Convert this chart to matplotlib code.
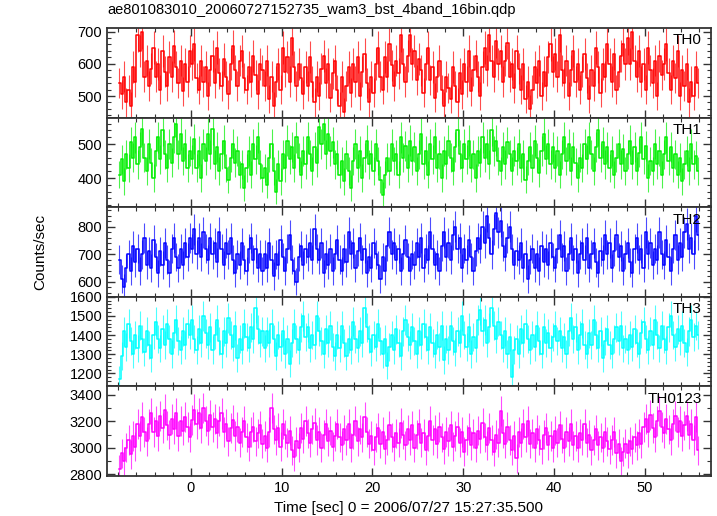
import numpy as np
import matplotlib

matplotlib.use("Agg")
import matplotlib.pyplot as plt
from matplotlib.ticker import MultipleLocator

# 0.25 s bins, 64 s burst starting at -8 s
T_START = -8.0
BIN = 0.25

TH0 = [
    540, 505, 560, 480, 520, 470, 590, 545, 690, 640, 700, 560, 610, 530, 585, 650,
    560, 600, 520, 640, 575, 530, 620, 560, 655, 590, 540, 610, 515, 600, 545, 640,
    600, 660, 555, 520, 610, 545, 590, 500, 580, 625, 540, 650, 570, 530, 615, 560,
    505, 600, 655, 580, 530, 610, 640, 555, 520, 590, 545, 625, 565, 505, 600, 580,
    530, 610, 490, 560, 470, 545, 600, 520, 650, 575, 620, 545, 680, 590, 530, 600,
    555, 505, 590, 530, 620, 545, 480, 560, 500, 585, 625, 540, 600, 495, 570, 610,
    520, 470, 560, 450, 530, 590, 510, 600, 545, 620, 500, 575, 630, 540, 480, 560,
    510, 600, 650, 560, 520, 620, 560, 660, 595, 530, 610, 570, 690, 600, 545, 625,
    690, 600, 640, 550, 615, 580, 510, 600, 650, 550, 590, 495, 560, 610, 520, 470,
    560, 525, 490, 590, 530, 480, 570, 505, 600, 545, 640, 515, 580, 625, 560, 500,
    590, 650, 580, 690, 610, 560, 670, 600, 640, 545, 610, 665, 560, 600, 525, 640,
    585, 520, 600, 490, 545, 460, 520, 590, 540, 610, 500, 575, 530, 620, 660, 575,
    630, 560, 690, 580, 540, 610, 500, 580, 640, 545, 600, 520, 575, 630, 555, 490,
    580, 530, 650, 590, 510, 600, 560, 660, 600, 545, 630, 520, 575, 625, 660, 600,
    680, 600, 700, 610, 560, 640, 545, 600, 520, 650, 580, 540, 610, 500, 625, 565,
    600, 660, 570, 520, 610, 555, 640, 500, 580, 530, 600, 480, 545, 500, 590, 540,
]

TH1 = [
    410, 455, 390, 470, 430, 505, 460, 520, 440, 490, 545, 460, 420, 500, 445, 400,
    480, 520, 455, 540, 470, 430, 500, 445, 520, 560, 470, 530, 450, 500, 430, 480,
    455, 515, 430, 480, 400, 500, 450, 530, 470, 545, 440, 490, 420, 470, 510, 430,
    395, 460, 500, 445, 480, 410, 440, 370, 430, 480, 410, 500, 455, 520, 440, 400,
    430, 380, 460, 500, 420, 360, 440, 390, 470, 430, 510, 455, 490, 430, 520, 460,
    410, 480, 440, 520, 470, 420, 490, 445, 550, 500, 560, 470, 530, 480, 505, 440,
    470, 410, 450, 390, 470, 420, 370, 450, 500, 430, 480, 400, 460, 510, 440, 470,
    420, 500, 450, 395, 350, 410, 460, 420, 500, 450, 470, 410, 520, 460, 495, 430,
    510, 450, 490, 420, 470, 530, 440, 480, 410, 500, 455, 520, 430, 470, 400, 480,
    440, 510, 460, 420, 490, 540, 470, 430, 500, 455, 510, 430, 470, 400, 480, 445,
    520, 460, 500, 440, 540, 480, 510, 450, 420, 490, 440, 505, 470, 420, 480, 450,
    500, 430, 470, 395, 450, 490, 430, 510, 460, 415, 480, 530, 455, 500, 440, 490,
    430, 480, 410, 470, 520, 450, 500, 420, 490, 445, 400, 460, 430, 500, 455, 520,
    470, 420, 490, 540, 460, 505, 440, 490, 430, 480, 410, 460, 500, 440, 485, 420,
    470, 510, 440, 490, 420, 475, 520, 455, 495, 400, 450, 420, 500, 440, 480, 410,
    470, 520, 450, 490, 430, 470, 410, 460, 390, 440, 480, 420, 500, 440, 465, 420,
]

TH2 = [
    680, 610, 580, 650, 700, 640, 730, 670, 720, 640, 700, 760, 660, 710, 650, 750,
    690, 630, 710, 660, 740, 680, 630, 720, 760, 690, 650, 720, 660, 740, 690, 760,
    720, 790, 700, 760, 690, 780, 720, 680, 760, 700, 740, 670, 780, 720, 660, 740,
    700, 760, 680, 630, 700, 660, 740, 680, 640, 720, 760, 680, 720, 650, 700, 640,
    700, 650, 740, 680, 620, 700, 660, 750, 690, 640, 720, 770, 680, 640, 600, 690,
    730, 660, 720, 690, 740, 680, 790, 720, 680, 740, 630, 700, 660, 720, 640, 700,
    750, 680, 640, 720, 670, 780, 700, 740, 650, 710, 760, 680, 720, 630, 690, 650,
    740, 700, 660, 610, 690, 640, 730, 780, 700, 740, 680, 720, 640, 700, 750, 690,
    640, 700, 660, 740, 690, 760, 650, 720, 680, 780, 720, 660, 700, 640, 730, 780,
    690, 740, 680, 770, 800, 720, 760, 650, 720, 680, 750, 690, 640, 710, 760, 720,
    800, 740, 840, 760, 700, 790, 850, 780, 820, 730, 690, 760, 800, 720, 660, 710,
    680, 740, 650, 700, 610, 680, 720, 650, 700, 640, 730, 670, 720, 660, 740, 690,
    650, 720, 770, 690, 730, 640, 700, 760, 680, 720, 630, 700, 740, 680, 760, 650,
    700, 740, 670, 630, 710, 680, 770, 700, 740, 650, 710, 770, 690, 730, 640, 700,
    740, 670, 630, 720, 760, 680, 720, 650, 780, 700, 740, 660, 720, 680, 780, 700,
    660, 750, 690, 640, 720, 770, 680, 740, 690, 780, 810, 720, 760, 700, 840, 770,
]

TH3 = [
    1170, 1290, 1420, 1340, 1460, 1370, 1300, 1400, 1330, 1450, 1380, 1310, 1420, 1350, 1280, 1400,
    1470, 1380, 1330, 1430, 1350, 1460, 1380, 1300, 1410, 1480, 1370, 1320, 1420, 1350, 1460, 1400,
    1480, 1380, 1320, 1430, 1360, 1500, 1410, 1350, 1440, 1320, 1400, 1480, 1370, 1300, 1420, 1360,
    1490, 1400, 1340, 1450, 1280, 1380, 1320, 1460, 1390, 1330, 1440, 1380, 1540, 1430, 1360, 1420,
    1330, 1420, 1360, 1460, 1380, 1290, 1400, 1340, 1420, 1300, 1380, 1250, 1360, 1460, 1380, 1320,
    1440, 1500, 1390, 1440, 1330, 1400, 1350, 1500, 1420, 1370, 1300, 1430, 1360, 1450, 1340, 1290,
    1400, 1330, 1450, 1360, 1290, 1380, 1320, 1470, 1380, 1330, 1420, 1360, 1540, 1440, 1380, 1310,
    1400, 1340, 1460, 1370, 1300, 1380, 1240, 1340, 1400, 1320, 1430, 1360, 1290, 1420, 1480, 1390,
    1350, 1440, 1370, 1300, 1420, 1350, 1460, 1390, 1320, 1440, 1360, 1300, 1400, 1340, 1450, 1270,
    1380, 1320, 1450, 1370, 1310, 1420, 1360, 1500, 1400, 1340, 1440, 1300, 1390, 1330, 1480, 1530,
    1420, 1480, 1360, 1440, 1540, 1450, 1380, 1470, 1400, 1330, 1420, 1300, 1390, 1180, 1320, 1380,
    1300, 1430, 1360, 1460, 1380, 1320, 1400, 1340, 1450, 1370, 1300, 1440, 1360, 1410, 1330, 1390,
    1450, 1370, 1420, 1330, 1390, 1300, 1420, 1490, 1380, 1440, 1320, 1400, 1460, 1350, 1300, 1410,
    1350, 1480, 1400, 1330, 1420, 1280, 1370, 1430, 1350, 1300, 1380, 1440, 1370, 1450, 1330, 1380,
    1320, 1400, 1340, 1430, 1360, 1300, 1410, 1470, 1380, 1320, 1420, 1350, 1480, 1400, 1330, 1450,
    1380, 1320, 1440, 1500, 1400, 1340, 1430, 1370, 1450, 1360, 1310, 1420, 1480, 1390, 1450, 1400,
]

TH0123 = [
    2840, 2960, 2900, 3000, 3060, 2950, 3090, 3010, 3180, 3090, 3230, 3120, 3050, 3180, 3260, 3120,
    3200, 3090, 3240, 3150, 3290, 3170, 3100, 3220, 3140, 3260, 3090, 3200, 3130, 3230, 3160, 3080,
    3210, 3290, 3180, 3260, 3150, 3300, 3200, 3130, 3250, 3160, 3220, 3110, 3200, 3260, 3120, 3180,
    3050, 3150, 3210, 3090, 3160, 3040, 3120, 3200, 3080, 3010, 3120, 3160, 3050, 3110, 3170, 3030,
    3090, 3000, 3120, 3300, 3140, 3060, 3150, 3010, 3180, 3100, 3040, 3130, 2980, 2930, 3050, 3000,
    3150, 3070, 3200, 3110, 3040, 3140, 3190, 3060, 3120, 3000, 3100, 3180, 3050, 3130, 3010, 3090,
    3180, 3080, 3020, 3140, 3060, 3180, 3000, 3100, 3200, 3050, 3140, 3080, 3230, 3120, 3030, 3090,
    2980, 3080, 3150, 3030, 3120, 2990, 3060, 3170, 3080, 3010, 3110, 3040, 3190, 3100, 3020, 3140,
    3060, 3170, 3000, 3100, 3180, 3040, 3110, 2980, 3090, 3200, 3060, 3140, 3030, 3160, 3080, 2990,
    3120, 3050, 3170, 3010, 3090, 3160, 3040, 3120, 2970, 3060, 3150, 3020, 3110, 3000, 3130, 3070,
    3190, 3080, 3020, 3150, 3060, 2970, 3100, 3040, 3280, 3110, 3030, 3160, 3060, 2980, 3090, 2920,
    3120, 3040, 3180, 3080, 3200, 3030, 3110, 3000, 3140, 3060, 2990, 3100, 3150, 3020, 3090, 3000,
    3130, 3040, 3170, 3070, 3000, 3120, 3050, 3180, 3020, 3090, 3000, 3110, 3060, 3180, 3040, 3100,
    2980, 3060, 3140, 3020, 3080, 3000, 3120, 3050, 2990, 3060, 3120, 2960, 3030, 2900, 2970, 3030,
    2960, 3050, 2990, 3080, 3020, 3110, 3030, 3160, 3220, 3120, 3250, 3150, 3080, 3200, 3280, 3160,
    3110, 3220, 3140, 3060, 3180, 3240, 3120, 3200, 3090, 3170, 3240, 3100, 3180, 3060, 3230, 2980,
]

PANELS = [
    ("TH0", TH0, "#ff0000", (433, 711), 100, 20),
    ("TH1", TH1, "#00ee00", (314, 578), 100, 20),
    ("TH2", TH2, "#0000ff", (545, 871), 100, 20),
    ("TH3", TH3, "#00ffff", (1132, 1600), 100, 20),
    ("TH0123", TH0123, "#ff00ff", (2787, 3465), 200, 100),
]

TITLE = "ae801083010_20060727152735_wam3_bst_4band_16bin.qdp"
XLABEL = "Time [sec] 0 = 2006/07/27 15:27:35.500"


def main():
    plt.rcParams.update({
        "font.family": ["Liberation Sans", "DejaVu Sans"],
        "font.size": 10,
    })
    fig = plt.figure(figsize=(7.17, 5.16), dpi=100)

    left, right = 107 / 717, 711 / 717
    top, bottom = 1 - 28 / 516, 1 - 476 / 516
    h = (top - bottom) / len(PANELS)

    for i, (name, vals, color, ylim, major, minor) in enumerate(PANELS):
        ax = fig.add_axes([left, top - (i + 1) * h, right - left, h])
        y = np.array(vals, dtype=float)
        t = T_START + BIN * (np.arange(len(y)) + 0.5)
        err = np.sqrt(y / BIN)
        ax.errorbar(t, y, yerr=err, fmt="none", ecolor=color, elinewidth=0.8, alpha=0.7)
        ax.step(t, y, where="mid", color=color, lw=1.1)
        ax.set_xlim(-9.25, 57.3)
        ax.set_ylim(*ylim)
        ax.xaxis.set_major_locator(MultipleLocator(10))
        ax.xaxis.set_minor_locator(MultipleLocator(2))
        ax.yaxis.set_major_locator(MultipleLocator(major))
        ax.yaxis.set_minor_locator(MultipleLocator(minor))
        ax.tick_params(which="both", direction="in", top=True, right=True, colors="#333333",
                       labelcolor="black", labelsize=10.5)
        ax.tick_params(which="major", length=6, width=1)
        ax.tick_params(which="minor", length=3, width=0.8)
        for s in ax.spines.values():
            s.set_linewidth(1.3)
            s.set_color("#333333")
        if i < len(PANELS) - 1:
            ax.tick_params(labelbottom=False)
        ax.text(0.985, 0.94, name, transform=ax.transAxes, ha="right", va="top", fontsize=11)

    fig.text(left, 1 - 10 / 516, TITLE, ha="left", va="center", fontsize=10.5)
    fig.text(0.5 * (left + right), 1 - 508 / 516, XLABEL, ha="center", va="center", fontsize=11)
    fig.text(40 / 717, 1 - 252 / 516, "Counts/sec", rotation=90, ha="center", va="center", fontsize=11)

    fig.savefig("out.png", dpi=100)
    plt.close(fig)


if __name__ == "__main__":
    main()
